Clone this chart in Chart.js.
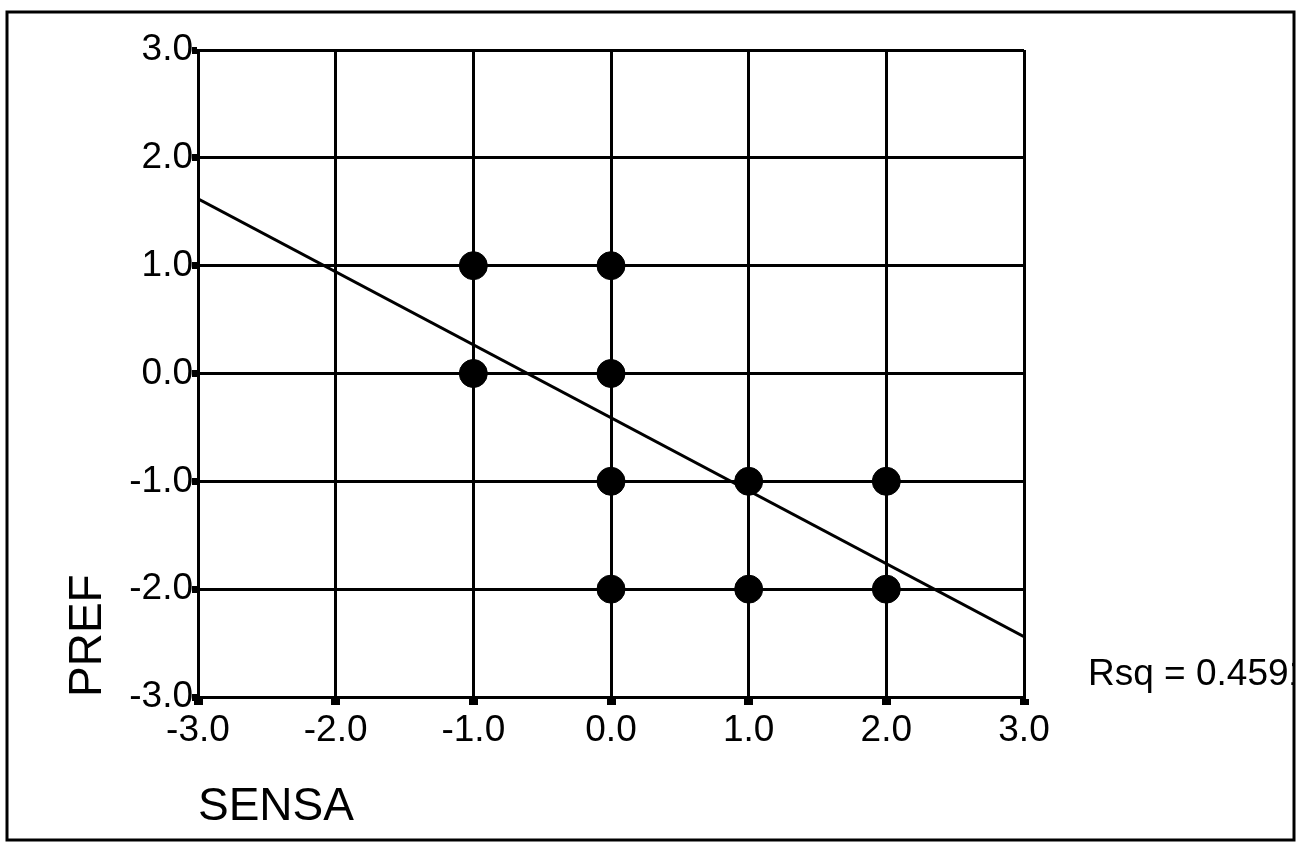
<!DOCTYPE html>
<html>
<head>
<meta charset="utf-8">
<script src="https://cdn.jsdelivr.net/npm/chart.js@4/dist/chart.umd.min.js"></script>
<style>
    body { margin: 0; background: #fff; }
    canvas { display: block; }
</style>
</head>
<body>
<canvas class="js-chart" width="1306" height="846"></canvas>
<script>
const ctx = document.querySelector('.js-chart').getContext('2d');

// observed points (SENSA, PREF)
const sensa = [-1, 0, -1, 0, 0, 1, 2, 0, 1, 2];
const pref = [1, 1, 0, 0, -1, -1, -1, -2, -2, -2];

const fitX = [-3, 3];
const fitY = [1.62, -2.44];

const axisMin = -3;
const axisMax = 3;
const rsqLabel = 'Rsq = 0.4591';

const FONT = '"Liberation Sans", Arial, Helvetica, sans-serif';

const frame = {
    id: 'frame',
    afterDraw(chart) {
        const c = chart.ctx;
        const area = chart.chartArea;
        const borderRight = 1294;
        c.save();
        // Rsq note, cut off by the frame like in the print
        c.beginPath();
        c.rect(0, 0, borderRight, chart.height);
        c.clip();
        c.fillStyle = '#000';
        c.font = '37px ' + FONT;
        c.textBaseline = 'middle';
        c.fillText(rsqLabel, area.right + 64, area.bottom - 22);
        c.restore();

        c.save();
        c.strokeStyle = '#000';
        c.lineWidth = 3;
        c.strokeRect(7, 12, borderRight - 7, 828);
        c.restore();
    },
};

function tickLabel(value) {
    return Number(value).toFixed(1);
}

new Chart(ctx, {
    type: 'scatter',
    data: {
        datasets: [
            {
                label: 'PREF',
                data: sensa.map((x, i) => ({ x, y: pref[i] })),
                backgroundColor: '#000',
                borderColor: '#000',
                pointRadius: 14,
                pointHoverRadius: 14,
            },
            {
                label: 'fit',
                type: 'line',
                data: fitX.map((x, i) => ({ x, y: fitY[i] })),
                borderColor: '#000',
                borderWidth: 3,
                pointRadius: 0,
                fill: false,
            },
        ],
    },
    options: {
        responsive: false,
        animation: false,
        devicePixelRatio: 1,
        layout: {
            padding: { left: 61, top: 50, right: 282, bottom: 11 },
        },
        plugins: {
            legend: { display: false },
            tooltip: { enabled: false },
        },
        scales: {
            x: {
                type: 'linear',
                min: axisMin,
                max: axisMax,
                afterFit(scale) {
                    scale.height = 138;
                },
                ticks: {
                    stepSize: 1,
                    color: '#000',
                    font: { family: FONT, size: 37 },
                    padding: 4,
                    callback: tickLabel,
                },
                grid: {
                    color: '#000',
                    lineWidth: 3,
                    tickLength: 8,
                    tickWidth: 9,
                    tickColor: '#000',
                },
                border: { color: '#000', width: 3 },
                title: {
                    display: true,
                    text: 'SENSA',
                    align: 'start',
                    color: '#000',
                    font: { family: FONT, size: 46 },
                    padding: 0,
                },
            },
            y: {
                type: 'linear',
                min: axisMin,
                max: axisMax,
                afterFit(scale) {
                    scale.width = 137;
                },
                ticks: {
                    stepSize: 1,
                    color: '#000',
                    font: { family: FONT, size: 37 },
                    padding: -1,
                    callback: tickLabel,
                },
                grid: {
                    color: '#000',
                    lineWidth: 3,
                    tickLength: 6,
                    tickWidth: 7,
                    tickColor: '#000',
                },
                border: { color: '#000', width: 3 },
                title: {
                    display: true,
                    text: 'PREF',
                    align: 'start',
                    color: '#000',
                    font: { family: FONT, size: 46 },
                    padding: 0,
                },
            },
        },
    },
    plugins: [frame],
});
</script>
</body>
</html>
